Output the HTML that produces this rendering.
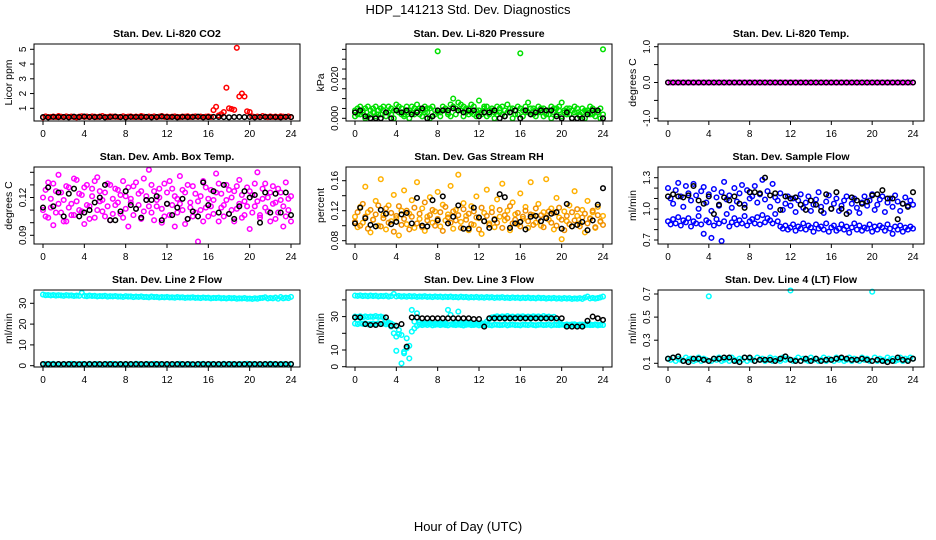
<!DOCTYPE html>
<html><head><meta charset="utf-8">
<style>
html,body{margin:0;padding:0;background:#fff;}
svg{display:block;font-family:"Liberation Sans",sans-serif;}
</style></head>
<body>
<svg id="chart" width="936" height="540" viewBox="0 0 936 540">
<text x="468" y="14" text-anchor="middle" font-size="13">HDP_141213  Std. Dev. Diagnostics</text>
<text x="468" y="531" text-anchor="middle" font-size="13">Hour of Day (UTC)</text>
</svg>
<script>
const xTicks=[0,4,8,12,16,20,24];
const co2Red=[0.38,0.45,0.40,0.42,0.44,0.41,0.47,0.43,0.40,0.45,0.42,0.44,0.41,0.39,0.43,0.46,0.42,0.44,0.40,0.45,
0.43,0.41,0.44,0.47,0.42,0.40,0.45,0.43,0.44,0.41,0.42,0.46,0.40,0.43,0.45,0.41,0.44,0.42,0.47,0.43,
0.41,0.44,0.42,0.45,0.40,0.43,0.48,0.42,0.44,0.41,0.43,0.45,0.42,0.40,0.44,0.43,0.46,0.41,0.43,0.45,
0.42,0.44,0.40,0.43,0.45,0.41,0.88,1.10,0.52,0.60,0.75,2.40,1.00,0.95,0.90,5.10,1.80,2.00,1.80,0.80,
0.75,0.45,0.42,0.44,0.41,0.47,0.43,0.40,0.45,0.42,0.44,0.41,0.46,0.43,0.42,0.45,0.40];
const co2Black=[0.40,0.38,0.42,0.40,0.41,0.39,0.43,0.40,0.44,0.41,0.40,0.42,0.39,0.41,0.43,0.40,0.38,0.42,0.41,0.40,
0.42,0.39,0.41,0.44,0.40,0.41,0.39,0.42,0.40,0.41,0.43,0.39,0.40,0.42,0.41,0.40,0.39,0.41,0.42,0.40,
0.41,0.39,0.40,0.42,0.41,0.40,0.39,0.42,0.40];
const presA=[0.004,0.002,0.006,0.003,0.005,0.001,0.004,0.003,0.006,0.002,0.005,0.004,0.003,0.006,0.002,0.004,0.007,0.003,0.005,0.002,
0.006,0.004,0.003,0.005,0.007,0.002,0.004,0.006,0.003,0.005,0.001,0.004,0.034,0.003,0.006,0.004,0.002,0.007,0.010,0.005,
0.008,0.004,0.006,0.003,0.005,0.007,0.002,0.004,0.009,0.003,0.005,0.006,0.002,0.004,0.003,0.006,0.005,0.002,0.004,0.007,
0.003,0.005,0.002,0.006,0.033,0.004,0.003,0.008,0.005,0.002,0.004,0.006,0.003,0.005,0.002,0.004,0.006,0.003,0.005,0.004,
0.008,0.003,0.005,0.002,0.004,0.006,0.003,0.002,0.005,0.004,0.003,0.006,0.002,0.004,0.003,0.005,0.035];
const presB=[0.001,0.005,0.002,0.004,0.000,0.006,0.002,0.005,0.001,0.004,0.002,0.006,0.001,0.003,0.005,0.000,0.004,0.006,0.002,0.001,
0.003,0.000,0.006,0.002,0.004,0.005,0.001,0.003,0.005,0.000,0.006,0.002,0.003,0.001,0.004,0.005,0.003,0.001,0.006,0.002,
0.004,0.007,0.001,0.005,0.002,0.003,0.006,0.001,0.004,0.002,0.006,0.001,0.004,0.005,0.000,0.002,0.003,0.006,0.001,0.003,
0.005,0.000,0.004,0.002,0.005,0.001,0.006,0.003,0.002,0.005,0.001,0.003,0.005,0.001,0.004,0.002,0.000,0.005,0.002,0.006,
0.001,0.004,0.002,0.005,0.000,0.003,0.005,0.001,0.003,0.000,0.004,0.002,0.005,0.001,0.003,0.000,0.002];
const presBlack=[0.003,0.004,0.001,0.000,0.000,0.000,0.003,0.000,0.004,0.003,0.004,0.002,0.003,0.005,0.000,0.001,0.004,0.004,0.004,0.005,
0.004,0.003,0.004,0.004,0.001,0.003,0.003,0.004,0.000,0.001,0.003,0.004,0.000,0.004,0.002,0.003,0.004,0.004,0.004,0.001,
0.000,0.003,0.000,0.000,0.000,0.002,0.004,0.004,0.000];
const tempMag=[0,0,0,0,0,0,0,0,0,0,0,0,0,0,0,0,0,0,0,0,0,0,0,0,0,0,0,0,0,0,0,0,0,0,0,0,0,0,0,0,0,0,0,0,0,0,0,0,0,
0,0,0,0,0,0,0,0,0,0,0,0,0,0,0,0,0,0,0,0,0,0,0,0,0,0,0,0,0,0,0,0,0,0,0,0,0,0,0,0,0,0,0,0,0,0,0,0];
const tempBlack=[0,0,0,0,0,0,0,0,0,0,0,0,0,0,0,0,0,0,0,0,0,0,0,0,0,0,0,0,0,0,0,0,0,0,0,0,0,0,0,0,0,0,0,0,0,0,0,0,0];
const ambA=[0.120,0.105,0.132,0.112,0.098,0.125,0.138,0.108,0.118,0.101,0.128,0.115,0.106,0.134,0.110,0.122,0.099,0.130,0.113,0.127,
0.104,0.136,0.117,0.109,0.124,0.131,0.102,0.119,0.114,0.126,0.107,0.133,0.121,0.097,0.116,0.129,0.111,0.123,0.103,0.135,
0.118,0.142,0.108,0.125,0.113,0.120,0.100,0.131,0.115,0.106,0.127,0.097,0.119,0.137,0.110,0.124,0.103,0.116,0.129,0.108,
0.085,0.121,0.133,0.112,0.105,0.126,0.118,0.139,0.101,0.123,0.114,0.130,0.107,0.120,0.125,0.111,0.134,0.104,0.117,0.128,
0.095,0.122,0.113,0.140,0.106,0.119,0.131,0.109,0.124,0.115,0.103,0.127,0.118,0.097,0.132,0.110,0.121];
const ambB=[0.110,0.126,0.104,0.119,0.131,0.108,0.115,0.124,0.101,0.129,0.112,0.106,0.135,0.117,0.123,0.109,0.128,0.114,0.103,0.121,
0.133,0.110,0.125,0.118,0.105,0.113,0.130,0.107,0.127,0.116,0.122,0.104,0.111,0.128,0.119,0.106,0.132,0.114,0.125,0.109,
0.121,0.113,0.130,0.102,0.118,0.127,0.111,0.105,0.124,0.133,0.114,0.121,0.108,0.115,0.126,0.099,0.130,0.112,0.105,0.123,
0.117,0.110,0.101,0.128,0.119,0.113,0.107,0.124,0.131,0.112,0.105,0.118,0.126,0.110,0.101,0.129,0.115,0.122,0.106,0.113,
0.125,0.108,0.131,0.117,0.104,0.127,0.112,0.120,0.101,0.129,0.116,0.108,0.124,0.113,0.105,0.119,0.101];
const ambBlack=[0.112,0.128,0.113,0.124,0.105,0.123,0.127,0.105,0.108,0.110,0.116,0.120,0.130,0.102,0.102,0.109,0.125,0.114,0.111,0.104,
0.118,0.118,0.121,0.102,0.115,0.106,0.112,0.119,0.103,0.109,0.105,0.132,0.114,0.125,0.108,0.130,0.107,0.103,0.113,0.125,
0.120,0.122,0.100,0.124,0.108,0.123,0.108,0.124,0.106];
const rhA=[0.112,0.098,0.125,0.104,0.152,0.118,0.091,0.108,0.133,0.100,0.162,0.114,0.095,0.127,0.106,0.141,0.110,0.087,0.120,0.147,
0.102,0.116,0.134,0.097,0.158,0.109,0.123,0.093,0.112,0.138,0.104,0.119,0.145,0.099,0.128,0.107,0.115,0.153,0.096,0.121,
0.168,0.105,0.130,0.113,0.094,0.126,0.101,0.139,0.110,0.089,0.117,0.148,0.103,0.124,0.098,0.135,0.112,0.156,0.107,0.120,
0.094,0.131,0.115,0.102,0.143,0.109,0.125,0.097,0.158,0.114,0.104,0.129,0.100,0.118,0.162,0.108,0.123,0.095,0.137,0.111,
0.082,0.119,0.106,0.127,0.099,0.146,0.113,0.103,0.121,0.091,0.133,0.110,0.118,0.097,0.125,0.105,0.113];
const rhB=[0.105,0.118,0.100,0.129,0.112,0.096,0.121,0.108,0.115,0.127,0.099,0.110,0.123,0.104,0.117,0.092,0.113,0.126,0.101,0.109,
0.120,0.095,0.112,0.124,0.103,0.116,0.098,0.131,0.107,0.114,0.121,0.100,0.109,0.118,0.093,0.125,0.111,0.104,0.119,0.107,
0.114,0.097,0.122,0.108,0.116,0.102,0.119,0.111,0.095,0.124,0.106,0.113,0.101,0.118,0.109,0.104,0.121,0.097,0.114,0.110,
0.126,0.103,0.108,0.117,0.099,0.112,0.120,0.106,0.115,0.101,0.123,0.109,0.114,0.098,0.111,0.119,0.104,0.117,0.100,0.124,
0.108,0.094,0.113,0.102,0.118,0.107,0.122,0.099,0.111,0.116,0.103,0.109,0.120,0.098,0.114,0.106,0.101];
const rhBlack=[0.103,0.124,0.110,0.101,0.099,0.121,0.116,0.102,0.105,0.115,0.117,0.103,0.137,0.100,0.099,0.134,0.107,0.139,0.103,0.112,
0.127,0.096,0.096,0.124,0.111,0.106,0.097,0.108,0.142,0.138,0.097,0.103,0.105,0.095,0.112,0.113,0.106,0.110,0.116,0.118,
0.096,0.129,0.099,0.101,0.105,0.094,0.107,0.128,0.150];
const flowUpper=[1.20,1.10,1.05,1.18,1.25,1.12,1.02,1.22,1.15,1.08,1.24,1.13,1.00,1.17,1.21,1.06,1.14,0.98,1.19,1.11,
1.03,1.16,1.26,1.09,1.13,1.01,1.20,1.07,1.15,1.23,1.04,1.18,1.10,1.12,1.22,1.06,1.14,1.28,1.09,1.17,
1.02,1.24,1.11,1.08,1.15,0.99,1.05,1.12,1.03,1.10,0.97,1.08,1.14,1.01,1.06,1.12,0.98,1.04,1.09,1.16,
1.02,0.96,1.07,1.13,1.00,1.05,1.10,0.98,1.03,1.08,1.12,0.97,1.05,1.10,1.01,0.96,1.06,1.12,1.03,1.08,
1.14,0.99,1.04,1.09,1.12,0.97,1.06,1.10,1.02,1.13,1.07,0.98,1.05,1.11,1.03,1.08,1.04];
const flowLower=[0.88,0.85,0.90,0.86,0.92,0.84,0.89,0.87,0.91,0.83,0.88,0.86,0.93,0.85,0.76,0.89,0.87,0.72,0.84,0.90,
0.86,0.69,0.88,0.95,0.83,0.87,0.91,0.85,0.89,0.86,0.93,0.84,0.88,0.90,0.86,0.92,0.85,0.94,0.87,0.91,
0.89,0.86,0.95,0.88,0.83,0.81,0.84,0.80,0.82,0.85,0.79,0.83,0.81,0.86,0.80,0.84,0.82,0.78,0.85,0.81,
0.83,0.80,0.86,0.78,0.82,0.84,0.79,0.81,0.85,0.80,0.83,0.77,0.82,0.86,0.80,0.84,0.79,0.82,0.81,0.85,
0.78,0.83,0.80,0.84,0.82,0.79,0.85,0.81,0.76,0.83,0.80,0.84,0.78,0.82,0.80,0.83,0.81];
const flowBlack=[1.12,1.14,1.12,1.11,1.13,1.22,1.08,1.05,1.12,0.95,1.04,1.11,1.08,1.12,1.05,1.01,1.16,1.16,1.15,1.30,
1.13,1.15,0.99,1.12,1.10,1.11,1.04,0.99,1.08,1.04,0.98,1.14,1.00,1.16,1.00,0.95,1.11,1.08,1.05,1.07,
1.13,1.14,1.18,1.10,1.10,0.90,1.05,1.02,1.16];
const line2Cyan=[34.2,33.9,34.0,33.8,34.0,33.7,33.9,33.8,33.6,33.9,33.7,33.8,33.5,33.7,33.6,35.0,33.6,33.4,33.7,33.5,
33.6,33.3,33.5,33.4,33.6,33.2,33.4,33.3,33.5,33.2,33.3,33.1,33.4,33.2,33.3,33.0,33.2,33.1,33.3,33.0,
33.1,32.9,33.2,33.0,33.1,32.8,33.0,32.9,33.1,32.8,32.9,32.7,33.0,32.8,32.9,32.6,32.8,32.7,32.9,32.6,
32.7,32.5,32.8,32.6,32.7,32.4,32.6,32.5,32.7,32.4,32.5,32.3,32.6,32.4,32.5,32.2,32.4,32.3,32.5,32.2,
32.3,32.1,32.4,32.2,32.5,32.6,32.9,32.3,32.6,32.4,32.8,32.2,33.0,32.4,32.7,32.5,33.1];
const line2Low=[0.6,0.8,0.5,0.7,0.9,0.6,0.8,0.5,0.7,0.6,0.8,0.9,0.5,0.7,0.6,0.8,0.7,0.5,0.9,0.6,
0.7,0.8,0.6,0.5,0.8,0.7,0.6,0.9,0.5,0.7,0.8,0.6,0.7,0.5,0.8,0.6,0.9,0.7,0.5,0.6,
0.8,0.7,0.6,0.9,0.5,0.7,0.8,0.6,0.7,0.5,0.8,0.6,0.7,0.9,0.5,0.6,0.8,0.7,0.6,0.5,
0.8,0.7,0.9,0.6,0.5,0.7,0.8,0.6,0.7,0.5,0.9,0.6,0.8,0.7,0.5,0.6,0.8,0.7,0.6,0.9,
0.5,0.7,0.8,0.6,0.7,0.5,0.8,0.6,0.9,0.7,0.5,0.6,0.8,0.7,0.6,0.5,0.7];
const line2Black=[0.8,0.8,0.7,0.8,0.8,0.8,0.8,0.7,0.8,0.8,0.8,0.8,0.8,0.8,0.7,0.8,0.8,0.8,0.8,0.8,
0.8,0.7,0.8,0.8,0.8,0.8,0.8,0.8,0.8,0.7,0.8,0.8,0.8,0.8,0.8,0.8,0.8,0.8,0.7,0.8,
0.8,0.8,0.8,0.8,0.8,0.8,0.7,0.8,0.8];
const line3Top=[42.6,42.4,42.7,42.3,42.5,42.2,42.6,42.3,42.5,42.1,42.4,42.2,42.5,42.0,42.3,43.6,42.1,42.4,42.0,42.2,
41.9,42.3,42.0,42.2,41.8,42.1,41.9,42.2,41.8,42.0,41.7,42.1,41.8,42.0,41.6,41.9,41.7,42.0,41.6,41.8,
41.5,41.9,41.6,41.8,41.4,41.7,41.5,41.8,41.4,41.6,41.3,41.7,41.4,41.6,41.2,41.5,41.3,41.6,41.2,41.4,
41.1,41.5,41.2,41.4,41.0,41.3,41.1,41.4,41.0,41.2,40.9,41.3,41.0,41.2,40.8,41.1,40.9,41.2,40.8,41.0,
40.7,41.1,40.8,41.0,40.6,40.9,40.7,41.0,40.6,41.4,42.0,40.9,41.2,40.8,41.1,41.5,42.0];
const line3Mid=[30.0,29.8,30.2,29.6,30.1,29.7,30.0,29.9,30.3,29.8,30.0,29.5,27.0,26.5,25.8,25.0,9.5,22.0,19.0,8.0,
17.0,12.5,34.0,27.0,32.0,26.5,26.0,25.8,26.2,25.9,26.1,25.7,26.0,25.8,26.2,25.9,34.0,31.0,25.8,26.1,
33.0,26.0,25.9,26.2,25.8,26.0,25.7,26.1,25.9,26.0,25.8,27.0,28.5,29.5,29.8,30.2,29.7,30.1,29.9,30.3,
29.8,30.0,29.6,30.1,29.9,30.2,29.7,30.0,29.8,30.2,29.9,30.1,29.7,30.3,29.8,30.0,29.6,29.9,27.5,25.5,
25.2,25.0,25.3,24.9,25.1,25.4,24.8,25.0,25.2,24.9,25.1,25.3,25.0,25.2,24.9,25.1,25.0];
const line3Low=[25.8,25.5,26.0,25.6,25.9,25.4,25.7,25.8,25.5,25.9,25.6,25.8,25.4,25.7,24.0,20.0,18.0,19.5,2.0,9.0,
11.0,5.0,21.0,23.0,24.5,25.2,24.9,25.3,25.0,25.4,24.8,25.1,25.3,24.9,25.2,25.0,24.8,25.3,25.1,24.9,
25.2,25.0,24.7,25.1,25.3,24.9,25.0,25.2,24.8,25.1,24.9,25.3,25.0,24.8,25.2,25.1,24.9,25.0,25.3,24.8,
25.1,25.2,24.9,25.0,24.8,25.2,25.1,24.9,25.3,25.0,24.8,25.1,25.2,24.9,25.0,25.3,24.8,25.1,25.0,24.9,
25.2,25.0,24.8,25.1,25.3,24.9,25.0,25.2,24.8,25.1,25.4,24.9,25.0,25.2,24.8,25.1,25.0];
const line3Black=[29.5,29.5,25.5,25.0,25.0,25.5,29.5,24.5,24.5,25.5,12.0,
29.5,29.5,29.0,29.0,29.0,29.0,29.0,29.0,29.0,29.0,29.0,29.0,28.5,28.5,
24.0,
29.0,29.0,29.0,29.0,29.0,29.0,29.0,29.0,29.0,29.0,29.0,29.0,29.0,29.0,29.0,
24.0,24.0,24.0,24.0,
27.5,30.0,29.0,28.0];
const line4Cyan=[0.14,0.13,0.15,0.12,0.14,0.13,0.12,0.15,0.13,0.14,0.12,0.13,0.15,0.12,0.14,0.13,0.68,0.12,0.14,0.13,
0.15,0.12,0.13,0.14,0.12,0.15,0.13,0.12,0.14,0.13,0.15,0.12,0.14,0.13,0.12,0.15,0.13,0.14,0.12,0.13,
0.15,0.12,0.14,0.13,0.12,0.15,0.13,0.14,0.73,0.12,0.13,0.15,0.12,0.14,0.13,0.12,0.15,0.13,0.14,0.12,
0.13,0.15,0.12,0.14,0.13,0.12,0.15,0.13,0.14,0.12,0.13,0.15,0.12,0.14,0.13,0.12,0.15,0.13,0.14,0.12,
0.72,0.15,0.12,0.14,0.13,0.12,0.15,0.13,0.14,0.12,0.13,0.15,0.12,0.14,0.13,0.15,0.14];
const line4Black=[0.14,0.15,0.16,0.12,0.11,0.14,0.14,0.13,0.12,0.14,0.14,0.15,0.15,0.12,0.11,0.15,0.15,0.12,0.13,0.13,
0.13,0.12,0.14,0.16,0.13,0.12,0.12,0.14,0.12,0.14,0.12,0.13,0.13,0.14,0.15,0.14,0.13,0.13,0.14,0.13,
0.12,0.13,0.12,0.11,0.12,0.15,0.13,0.12,0.14];

const colX=[{l:34,r:300,x0:43,x24:291},{l:346,r:612,x0:355,x24:603},{l:658,r:924,x0:668,x24:913}];
const rowY=[{t:44,b:121},{t:167,b:244},{t:290,b:367}];
const panels=[
 {name:'co2',title:'Stan. Dev. Li-820 CO2',ylab:'Licor ppm',c:0,r:0,a:[1,108.3,5,49.3],ticks:[1,2,3,4,5],labels:['1','2','3','4','5'],series:[[co2Red,'#ff0000'],[co2Black,'#000']]},
 {name:'pressure',title:'Stan. Dev. Li-820 Pressure',ylab:'kPa',c:1,r:0,a:[0,118.3,0.01,98.6],ticks:[0,0.005,0.01,0.015,0.02,0.025,0.03,0.035],labels:['0.000','','','','0.020','','',''],series:[[presA,'#00e000'],[presB,'#00e000'],[presBlack,'#000']]},
 {name:'temp',title:'Stan. Dev. Li-820 Temp.',ylab:'degrees C',c:2,r:0,a:[-1,118.3,1,46.7],ticks:[-1,-0.5,0,0.5,1],labels:['-1.0','','0.0','','1.0'],series:[[tempMag,'#ff00ff'],[tempBlack,'#000']]},
 {name:'amb-box-temp',title:'Stan. Dev. Amb. Box Temp.',ylab:'degrees C',c:0,r:1,a:[0.09,235.3,0.12,197.5],ticks:[0.09,0.10,0.11,0.12,0.13,0.14],labels:['0.09','','','0.12','',''],series:[[ambA,'#ff00ff'],[ambB,'#ff00ff'],[ambBlack,'#000']]},
 {name:'gas-rh',title:'Stan. Dev. Gas Stream RH',ylab:'percent',c:1,r:1,a:[0.08,240.7,0.16,180.7],ticks:[0.08,0.10,0.12,0.14,0.16],labels:['0.08','','0.12','','0.16'],series:[[rhA,'#ffb000'],[rhB,'#f09000'],[rhBlack,'#000']]},
 {name:'sample-flow',title:'Stan. Dev. Sample Flow',ylab:'ml/min',c:2,r:1,a:[0.7,240,1.3,177.7],ticks:[0.7,0.8,0.9,1.0,1.1,1.2,1.3],labels:['0.7','','','1.0','','','1.3'],series:[[flowUpper,'#0000ff'],[flowLower,'#0000ff'],[flowBlack,'#000']]},
 {name:'line2-flow',title:'Stan. Dev. Line 2 Flow',ylab:'ml/min',c:0,r:2,a:[0,365.7,30,303.3],ticks:[0,10,20,30],labels:['0','10','20','30'],series:[[line2Cyan,'#00ffff'],[line2Low,'#00ffff'],[line2Black,'#000']]},
 {name:'line3-flow',title:'Stan. Dev. Line 3 Flow',ylab:'ml/min',c:1,r:2,a:[0,366.7,10,350],ticks:[0,10,20,30,40],labels:['0','10','','30',''],series:[[line3Top,'#00ffff'],[line3Mid,'#00ffff'],[line3Low,'#00ffff'],[line3Black,'#000']]},
 {name:'line4-flow',title:'Stan. Dev. Line 4 (LT) Flow',ylab:'ml/min',c:2,r:2,a:[0.1,363.3,0.7,294],ticks:[0.1,0.3,0.5,0.7],labels:['0.1','0.3','0.5','0.7'],series:[[line4Cyan,'#00ffff'],[line4Black,'#000']]}
];
const NS='http://www.w3.org/2000/svg';
const svg=document.getElementById('chart');
function mk(tag,attrs,parent){const e=document.createElementNS(NS,tag);for(const k in attrs)e.setAttribute(k,attrs[k]);parent.appendChild(e);return e;}
panels.forEach(p=>{
  const cx=colX[p.c], ry=rowY[p.r];
  const g=mk('g',{},svg);
  
  
  const xs=h=>cx.x0+(cx.x24-cx.x0)*h/24;
  const ys=v=>p.a[1]+(v-p.a[0])*(p.a[3]-p.a[1])/(p.a[2]-p.a[0]);
  const t=mk('text',{x:(cx.l+cx.r)/2,y:ry.t-7,'text-anchor':'middle','font-size':'10.5','font-weight':'bold'},g);
  t.textContent=p.title;
  
  
  p.series.forEach(([arr,col],si)=>{
    const sg=mk('g',{fill:'none',stroke:col,'stroke-width':'1.5'},g);
    
    
    const n=arr.length;
    arr.forEach((v,i)=>{
      const c=mk('circle',{cx:xs(i*24/(n-1)).toFixed(1),cy:ys(v).toFixed(1),r:'2.3'},sg);
      
      
    });
  });
  const box=mk('rect',{x:cx.l,y:ry.t,width:cx.r-cx.l,height:ry.b-ry.t,fill:'none',stroke:'#000','stroke-width':'1'},g);
  
  
  const xa=mk('g',{},g);
  
  
  mk('line',{x1:xs(0),x2:xs(24),y1:ry.b,y2:ry.b,stroke:'#000'},xa);
  xTicks.forEach(h=>{
    mk('line',{x1:xs(h),x2:xs(h),y1:ry.b,y2:ry.b+4,stroke:'#000'},xa);
    const tl=mk('text',{x:xs(h),y:ry.b+16,'text-anchor':'middle','font-size':'10'},xa);
    tl.textContent=h;
    
    
  });
  const ya=mk('g',{},g);
  
  
  const y0=ys(p.ticks[0]), y1=ys(p.ticks[p.ticks.length-1]);
  mk('line',{x1:cx.l,x2:cx.l,y1:y0,y2:y1,stroke:'#000'},ya);
  p.ticks.forEach((v,i)=>{
    const y=ys(v);
    mk('line',{x1:cx.l-4,x2:cx.l,y1:y,y2:y,stroke:'#000'},ya);
    if(p.labels[i]){
      const tl=mk('text',{x:cx.l-8,y:y,'text-anchor':'middle','font-size':'10',transform:'rotate(-90 '+(cx.l-8)+' '+y+')'},ya);
      tl.textContent=p.labels[i];
      
      
    }
  });
  const ymid=(ry.t+ry.b)/2, lx=cx.l-22;
  const yl=mk('text',{x:lx,y:ymid,'text-anchor':'middle','font-size':'10.5',transform:'rotate(-90 '+lx+' '+ymid+')'},g);
  yl.textContent=p.ylab;
  
  
});
</script>
</body></html>
